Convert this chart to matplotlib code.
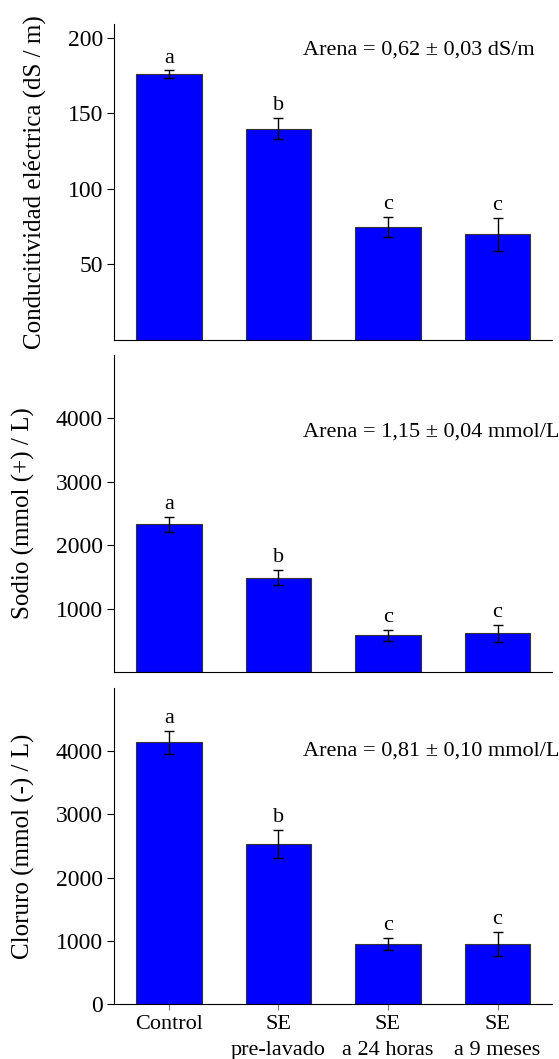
import matplotlib
matplotlib.use("Agg")
import matplotlib.pyplot as plt
import numpy as np

plt.rcParams['font.family'] = ['Liberation Serif', 'DejaVu Serif']

# datos
grupos = ['Control', 'SE\npre-lavado', 'SE\na 24 horas', 'SE\na 9 meses']
letras = ['a', 'b', 'c', 'c']

ce_media = [176, 140, 75, 70]
ce_err = [2.5, 7, 6.5, 11]

na_media = [2330, 1490, 580, 610]
na_err = [120, 125, 85, 135]

cl_media = [4140, 2530, 950, 950]
cl_err = [180, 225, 100, 195]

paneles = [
    (ce_media, ce_err, 'Conducitividad eléctrica (dS / m)', (0, 209), [50, 100, 150, 200],
     'Arena = 0,62 ± 0,03 dS/m', 0.918),
    (na_media, na_err, 'Sodio (mmol (+) / L)', (0, 5000), [1000, 2000, 3000, 4000],
     'Arena = 1,15 ± 0,04 mmol/L', 0.757),
    (cl_media, cl_err, 'Cloruro (mmol (-) / L)', (0, 5000), [0, 1000, 2000, 3000, 4000],
     'Arena = 0,81 ± 0,10 mmol/L', 0.80),
]

posiciones = [
    [0.204, 0.679, 0.784, 0.298],
    [0.204, 0.3654, 0.784, 0.2994],
    [0.204, 0.0519, 0.784, 0.2987],
]

fig = plt.figure(figsize=(5.59, 10.59), dpi=100)
x = np.arange(len(grupos))

for i, (media, err, etiqueta, ylim, yticks, texto, ty) in enumerate(paneles):
    ax = fig.add_axes(posiciones[i])
    ax.bar(x, media, width=0.6, color='#0000FF', edgecolor='#333333', linewidth=0.8, zorder=2)
    ax.errorbar(x, media, yerr=err, fmt='none', ecolor='black', elinewidth=1.0,
                capsize=3.5, capthick=1.0, zorder=3)
    rango = ylim[1] - ylim[0]
    for xi, m, e, l in zip(x, media, err, letras):
        ax.text(xi, m + e + rango * 0.008, l, ha='center', va='bottom', fontsize=16)
    ax.set_xlim(-0.5, 3.5)
    ax.set_ylim(*ylim)
    ax.set_yticks(yticks)
    ax.spines['top'].set_visible(False)
    ax.spines['right'].set_visible(False)
    ax.tick_params(axis='y', direction='out', length=5, labelsize=17, pad=3)
    ax.set_ylabel(etiqueta, fontsize=18, labelpad=15)
    ax.text(0.431, ty, texto, transform=ax.transAxes, ha='left', va='center', fontsize=16)
    if i == 2:
        ax.set_xticks(x)
        ax.set_xticklabels(grupos, fontsize=16, linespacing=1.5)
        ax.tick_params(axis='x', direction='out', length=4, color='#777777', pad=4)
    else:
        ax.set_xticks([])

fig.align_ylabels(fig.axes)
fig.savefig('out.png', dpi=100)
